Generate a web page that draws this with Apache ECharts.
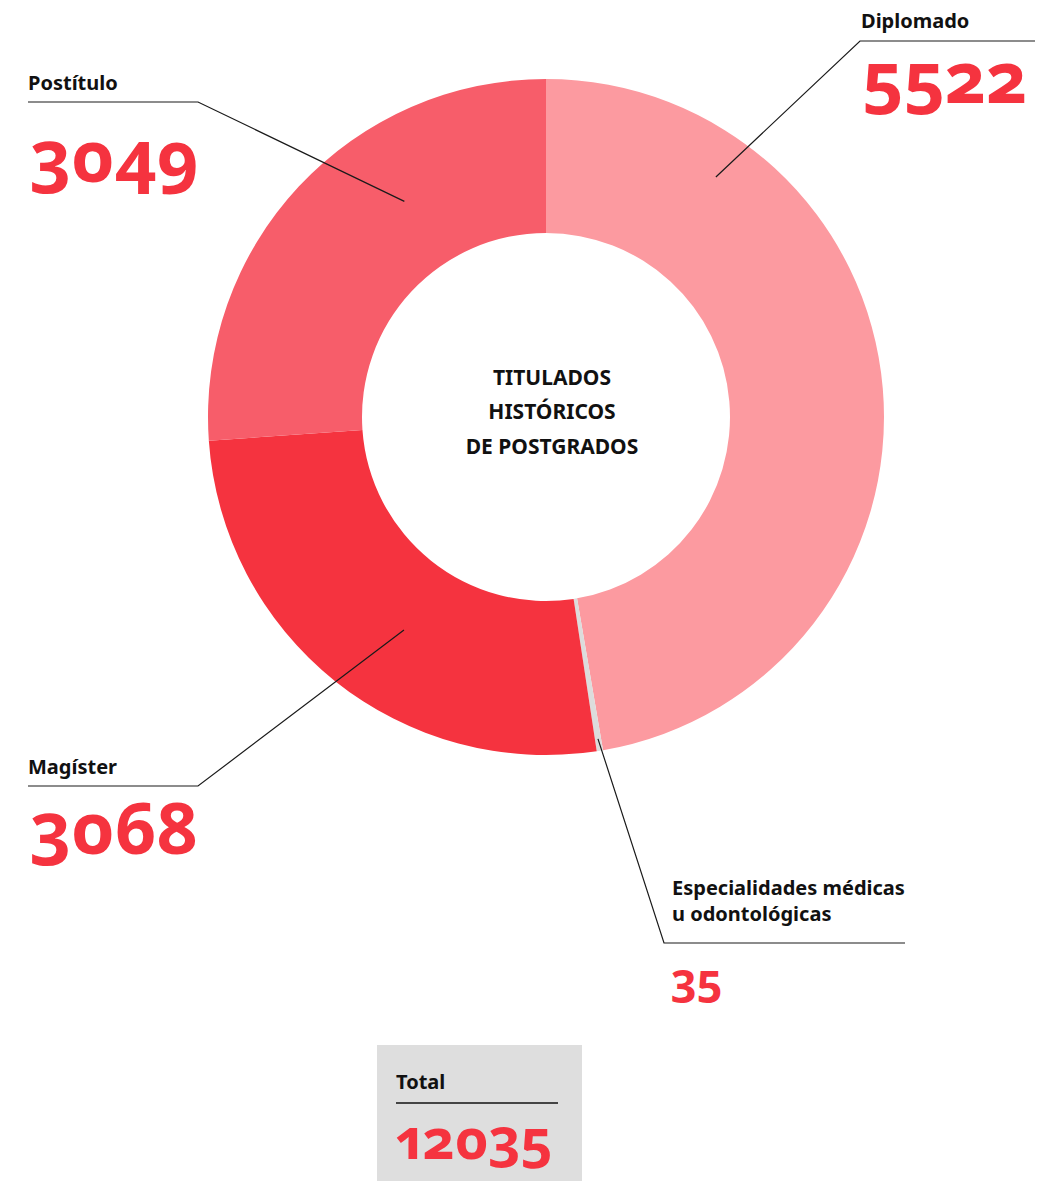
<!DOCTYPE html>
<html>
<head>
<meta charset="utf-8">
<script src="https://cdn.jsdelivr.net/npm/echarts@6/dist/echarts.min.js"></script>
<style>
html,body{margin:0;padding:0;background:#fff;}
#main{width:1060px;height:1181px;}
/* cifras antiguas (oldstyle) como en el original */
#main text{font-feature-settings:"onum" 1, "pnum" 1 !important;}
</style>
</head>
<body>
<div id="main"></div>
<script>
    // datos
    var categorias = ['Diplomado', 'Especialidades médicas\nu odontológicas', 'Magíster', 'Postítulo'];
    var titulados = [5522, 35, 3068, 3049];
    var colores = ['#fc9aa0', '#dcdcdc', '#f5333f', '#f75d6a'];
    var totalTitulados = 12035;
    var textoCentro = 'TITULADOS\nHISTÓRICOS\nDE POSTGRADOS';

    // disposición de las llamadas (ang: grados desde arriba, null = centro del sector)
    var llamadas = [
        {ang: 35.3, r: 294, codo: [860, 41], fin: 1035, tx: 861, ty: 20, vx: 862, vy: 75, vs: 72},
        {ang: null, r: 326, codo: [664, 943], fin: 905, tx: 672, ty: 900, vx: 671, vy: 978, vs: 45},
        {ang: 213.7, r: 256, codo: [198, 786], fin: 28, tx: 28, ty: 766, vx: 30, vy: 826, vs: 72},
        {ang: 326.7, r: 258, codo: [198, 102], fin: 28, tx: 28, ty: 82, vx: 30, vy: 154, vs: 72}
    ];

    var cx = 546, cy = 417;
    var fuente = '"Noto Sans", "Open Sans", sans-serif';
    var rojo = '#f5333f';

    function sumar(arr){
        var s = 0;
        for(var i=0;i<arr.length;i++){ s += arr[i]; }
        return s;
    }

    function crearGraficos(){
        var suma = sumar(titulados);
        var acum = 0;
        var elementos = [];
        for(var i=0;i<titulados.length;i++){
            var c = llamadas[i];
            var ang = c.ang;
            if(ang === null){
                ang = (acum + titulados[i] / 2) / suma * 360;
            }
            acum += titulados[i];
            var rad = ang * Math.PI / 180;
            var ax = cx + c.r * Math.sin(rad);
            var ay = cy - c.r * Math.cos(rad);
            elementos.push({
                type: 'polyline', z: 10, silent: true,
                shape: {points: [[ax, ay], c.codo, [c.fin, c.codo[1]]]},
                style: {stroke: '#1a1a1a', lineWidth: 1.2, fill: null}
            });
            elementos.push({
                type: 'text', z: 10, silent: true,
                style: {
                    x: c.tx, y: c.ty, text: categorias[i],
                    font: 'bold 20px ' + fuente, lineHeight: 26,
                    fill: '#111', align: 'left', verticalAlign: 'middle'
                }
            });
            elementos.push({
                type: 'text', z: 10, silent: true,
                style: {
                    x: c.vx, y: c.vy, text: String(titulados[i]),
                    font: 'bold ' + c.vs + 'px ' + fuente,
                    fill: rojo, align: 'left', verticalAlign: 'middle'
                }
            });
        }
        // texto central
        elementos.push({
            type: 'text', z: 10, silent: true,
            style: {
                x: 552, y: 411, text: textoCentro,
                font: 'bold 21px ' + fuente, lineHeight: 34.5,
                fill: '#111', align: 'center', verticalAlign: 'middle'
            }
        });
        // caja total
        elementos.push({
            type: 'rect', z: 5, silent: true,
            shape: {x: 377, y: 1045, width: 205, height: 140},
            style: {fill: '#dedede'}
        });
        elementos.push({
            type: 'text', z: 10, silent: true,
            style: {x: 396, y: 1081, text: 'Total', font: 'bold 20px ' + fuente,
                fill: '#111', align: 'left', verticalAlign: 'middle'}
        });
        elementos.push({
            type: 'line', z: 10, silent: true,
            shape: {x1: 396, y1: 1103, x2: 558, y2: 1103},
            style: {stroke: '#444', lineWidth: 2}
        });
        elementos.push({
            type: 'text', z: 10, silent: true,
            style: {x: 396, y: 1137, text: String(totalTitulados), font: 'bold 56px ' + fuente,
                fill: rojo, align: 'left', verticalAlign: 'middle'}
        });
        return elementos;
    }

    var datos = [];
    for(var i=0;i<categorias.length;i++){
        datos.push({name: categorias[i], value: titulados[i], itemStyle: {color: colores[i]}});
    }

    var dom = document.getElementById('main');
    var myChart = echarts.init(dom, null, {renderer: 'svg'});
    var option = {
        animation: false,
        backgroundColor: '#fff',
        series: [{
            type: 'pie',
            center: [cx, cy],
            radius: [184, 338],
            startAngle: 90,
            clockwise: true,
            silent: true,
            avoidLabelOverlap: false,
            label: {show: false},
            labelLine: {show: false},
            itemStyle: {borderWidth: 0},
            emphasis: {disabled: true},
            data: datos
        }],
        graphic: crearGraficos()
    };
    myChart.setOption(option);
</script>
</body>
</html>
